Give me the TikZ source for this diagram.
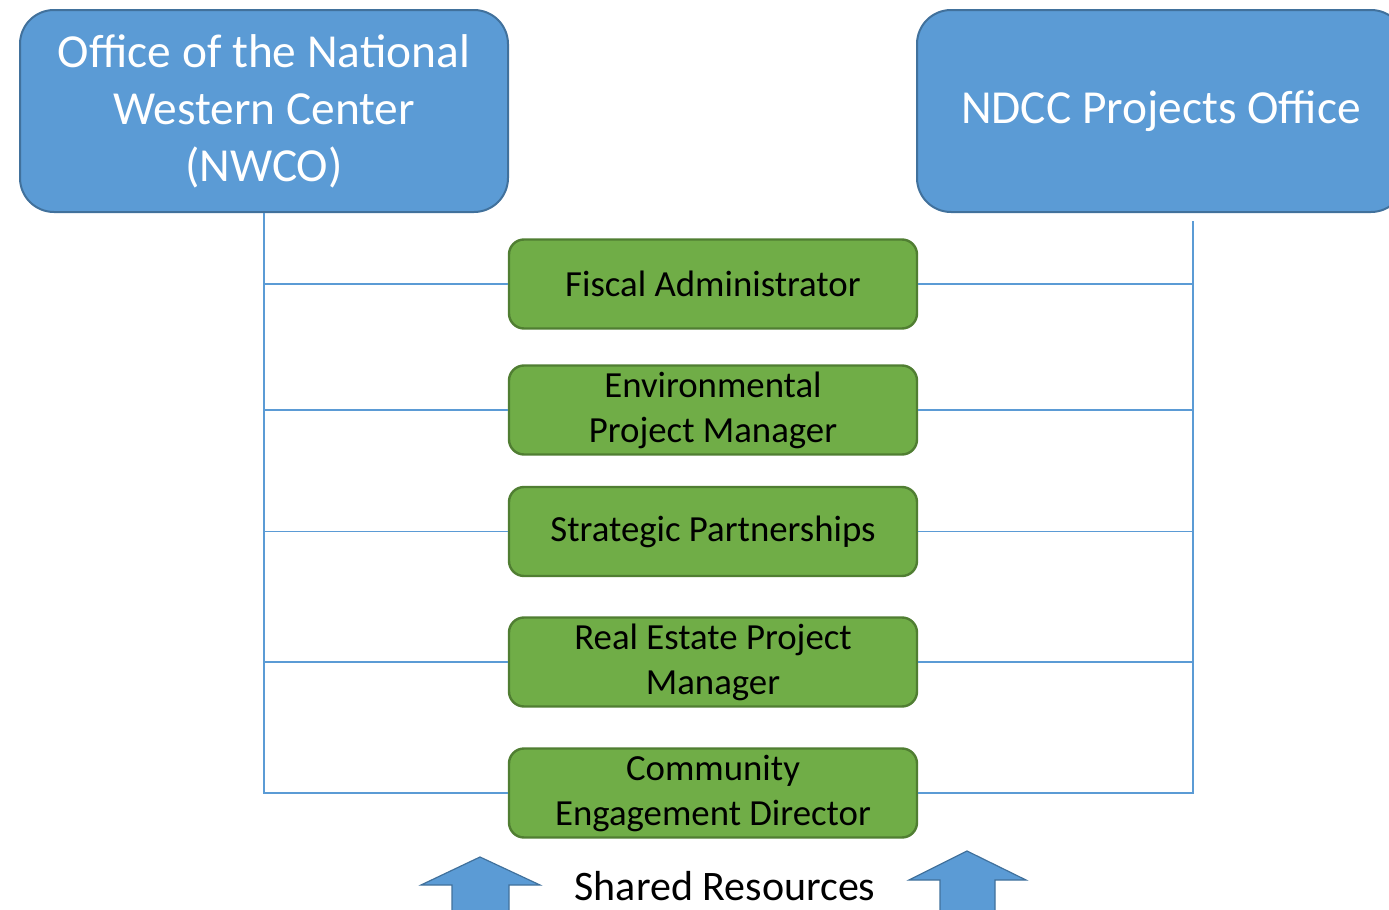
\documentclass[tikz,border=0pt]{standalone}
\usepackage{fontspec}
\setmainfont{Carlito}
\usepackage{tikz}
\usetikzlibrary{positioning}

\definecolor{officeblue}{HTML}{5B9BD5}
\definecolor{officeline}{HTML}{41719C}
\definecolor{rolegreen}{HTML}{70AD47}
\definecolor{roleline}{HTML}{507E32}

\tikzset{
  office/.style={draw=officeline,line width=1pt,fill=officeblue,rounded corners=17pt,
    minimum width=244pt,minimum height=101pt,align=center,text=white,
    font=\fontsize{23.7}{28.5}\selectfont},
  role/.style={draw=roleline,line width=1.2pt,fill=rolegreen,rounded corners=7.5pt,
    minimum width=204pt,minimum height=44.5pt,align=center,inner sep=0pt,
    font=\fontsize{18.4}{22.5}\selectfont},
  link/.style={officeblue,line width=0.7pt},
  bigarrow/.style={draw=officeline,line width=0.6pt,fill=officeblue}
}

\begin{document}
\begin{tikzpicture}[x=0.5pt,y=-0.5pt]
    \useasboundingbox (0,0) rectangle (1389,910);
    \clip (0,0) rectangle (1389,910);
    \node[office] (nwco) at (264,111) {Office of the National\\Western Center\\(NWCO)};
    \node[office] (ndcc) at (1161,111) {NDCC Projects Office};
    \node[role] (fiscal) at (713,284) {Fiscal Administrator};
    \node[role] (envpm) at (713,410) {Environmental\\Project Manager};
    \node[role] (partner) at (713,531.5) {Strategic Partnerships};
    \node[role] (realpm) at (713,662) {Real Estate Project\\Manager};
    \node[role] (commdir) at (713,793) {Community\\Engagement Director};
    \coordinate (ndcctop) at (1193,221);
    \coordinate (ndccend) at (1193,793);
    \draw[link] (nwco.south) -- (nwco.south |- commdir.west) -- (commdir.west);
    \draw[link] (ndcctop) -- (ndccend) -- (commdir.east);
    \foreach \r in {fiscal,envpm,partner,realpm} {
      \draw[link] (nwco.south |- \r.west) -- (\r.west);
      \draw[link] (\r.east) -- (ndcctop |- \r.east);
    }
    \node (shared) at (725,886) {\fontsize{21}{25}\selectfont Shared Resources};
    \draw[bigarrow] (452,930) -- (452,885) -- (421,885) -- (480,857)
      -- (540,885) -- (509,885) -- (509,930) -- cycle;
    \draw[bigarrow] (940,930) -- (940,880) -- (909,880) -- (967,851)
      -- (1026,880) -- (995,880) -- (995,930) -- cycle;
  \end{tikzpicture}
\end{document}
